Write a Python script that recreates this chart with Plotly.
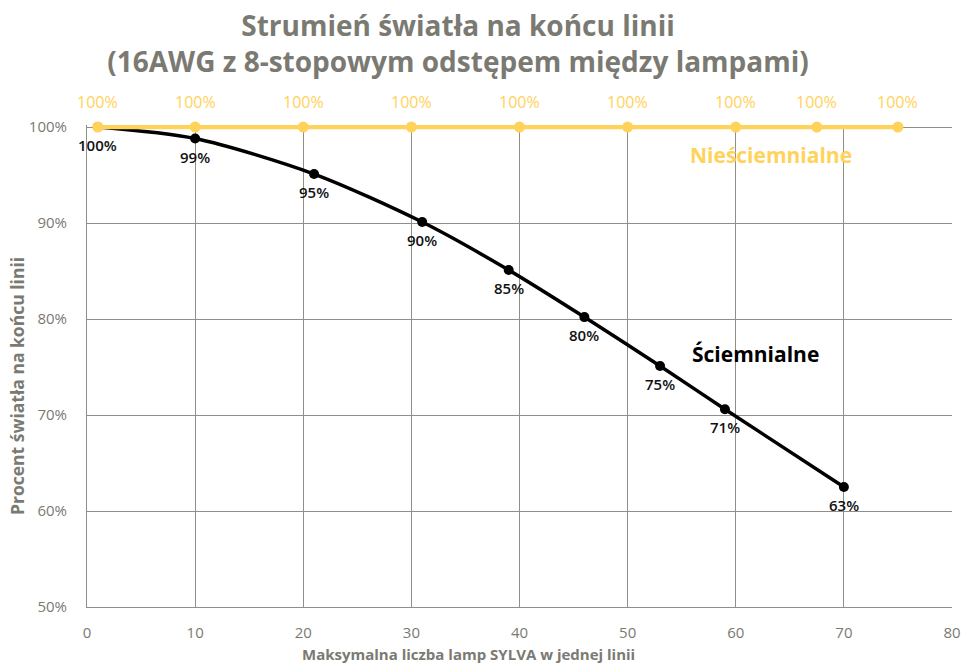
import plotly.graph_objects as go

# Data
dim_x = [1, 10, 21, 31, 39, 46, 53, 59, 70]
dim_y = [100, 98.8, 95.1, 90.1, 85.1, 80.2, 75.1, 70.6, 62.5]
dim_labels = ["100%", "99%", "95%", "90%", "85%", "80%", "75%", "71%", "63%"]

nondim_x = [1, 10, 20, 30, 40, 50, 60, 67.5, 75]
nondim_y = [100, 100, 100, 100, 100, 100, 100, 100, 100]
nondim_labels = ["100%"] * 9

y_ticks = [50, 60, 70, 80, 90, 100]
y_tick_text = ["50%", "60%", "70%", "80%", "90%", "100%"]
x_ticks = [0, 10, 20, 30, 40, 50, 60, 70, 80]

title_text = "Strumień światła na końcu linii<br>(16AWG z 8-stopowym odstępem między lampami)"
x_title = "Maksymalna liczba lamp SYLVA w jednej linii"
y_title = "Procent światła na końcu linii"

YELLOW = "#FFD25A"
GRAY = "#7a7a72"
GRID = "#8f8f87"
FONT = "Open Sans"

fig = go.Figure()

fig.add_trace(go.Scatter(
    x=dim_x, y=dim_y, mode="lines+markers",
    line=dict(color="black", width=3.5, shape="spline", smoothing=0.8),
    marker=dict(color="black", size=10),
    cliponaxis=False, showlegend=False, hoverinfo="skip",
))
fig.add_trace(go.Scatter(
    x=nondim_x, y=nondim_y, mode="lines+markers",
    line=dict(color=YELLOW, width=4.5),
    marker=dict(color=YELLOW, size=11),
    cliponaxis=False, showlegend=False, hoverinfo="skip",
))

annotations = []
for x, y, t in zip(dim_x, dim_y, dim_labels):
    annotations.append(dict(x=x, y=y, text=t, showarrow=False, yshift=-18,
                            font=dict(family=FONT, size=15, color="#111111", weight=600)))
for x, y, t in zip(nondim_x, nondim_y, nondim_labels):
    annotations.append(dict(x=x, y=y, text=t, showarrow=False, yshift=25,
                            font=dict(family=FONT, size=16, color=YELLOW)))

annotations.append(dict(x=63.3, y=97.1, text="<b>Nieściemnialne</b>", showarrow=False,
                        font=dict(family=FONT, size=21, color=YELLOW)))
annotations.append(dict(x=61.8, y=76.35, text="<b>Ściemnialne</b>", showarrow=False,
                        font=dict(family=FONT, size=21, color="black")))

annotations.append(dict(xref="paper", yref="paper", x=(468 - 87) / 865, y=-(654 - 607) / 482,
                        text="<b>" + x_title + "</b>", showarrow=False,
                        xanchor="center", yanchor="middle",
                        font=dict(family=FONT, size=15, color=GRAY)))
annotations.append(dict(xref="paper", yref="paper", x=-(87 - 17) / 865, y=(607 - 386) / 482,
                        text="<b>" + y_title + "</b>", showarrow=False, textangle=-90,
                        xanchor="center", yanchor="middle",
                        font=dict(family=FONT, size=17.5, color=GRAY)))

fig.update_layout(
    width=963, height=663,
    margin=dict(l=87, r=11, t=125, b=56, autoexpand=False),
    paper_bgcolor="white", plot_bgcolor="white",
    title=dict(text="<b>" + title_text + "</b>", x=458 / 963, xanchor="center",
               xref="container", y=0.946, yanchor="top",
               font=dict(family=FONT, size=28, color=GRAY)),
    annotations=annotations,
    font=dict(family=FONT),
)

fig.update_xaxes(range=[0, 80], tickvals=x_ticks, showgrid=True, gridcolor=GRID, gridwidth=1,
                 showline=True, linecolor=GRID, mirror=False, zeroline=False,
                 ticks="", ticklabelstandoff=12, automargin=False,
                 tickfont=dict(family=FONT, size=15, color=GRAY))
fig.update_yaxes(range=[50, 100.21], tickvals=y_ticks, ticktext=y_tick_text, showgrid=True,
                 gridcolor=GRID, gridwidth=1, showline=True, linecolor=GRID, mirror=False,
                 zeroline=False, ticks="", ticklabelstandoff=16, automargin=False,
                 tickfont=dict(family=FONT, size=15, color=GRAY))

fig.write_html("out.html", config={"displayModeBar": False},
               post_script="document.body.style.margin='0';document.body.style.overflow='hidden';")
